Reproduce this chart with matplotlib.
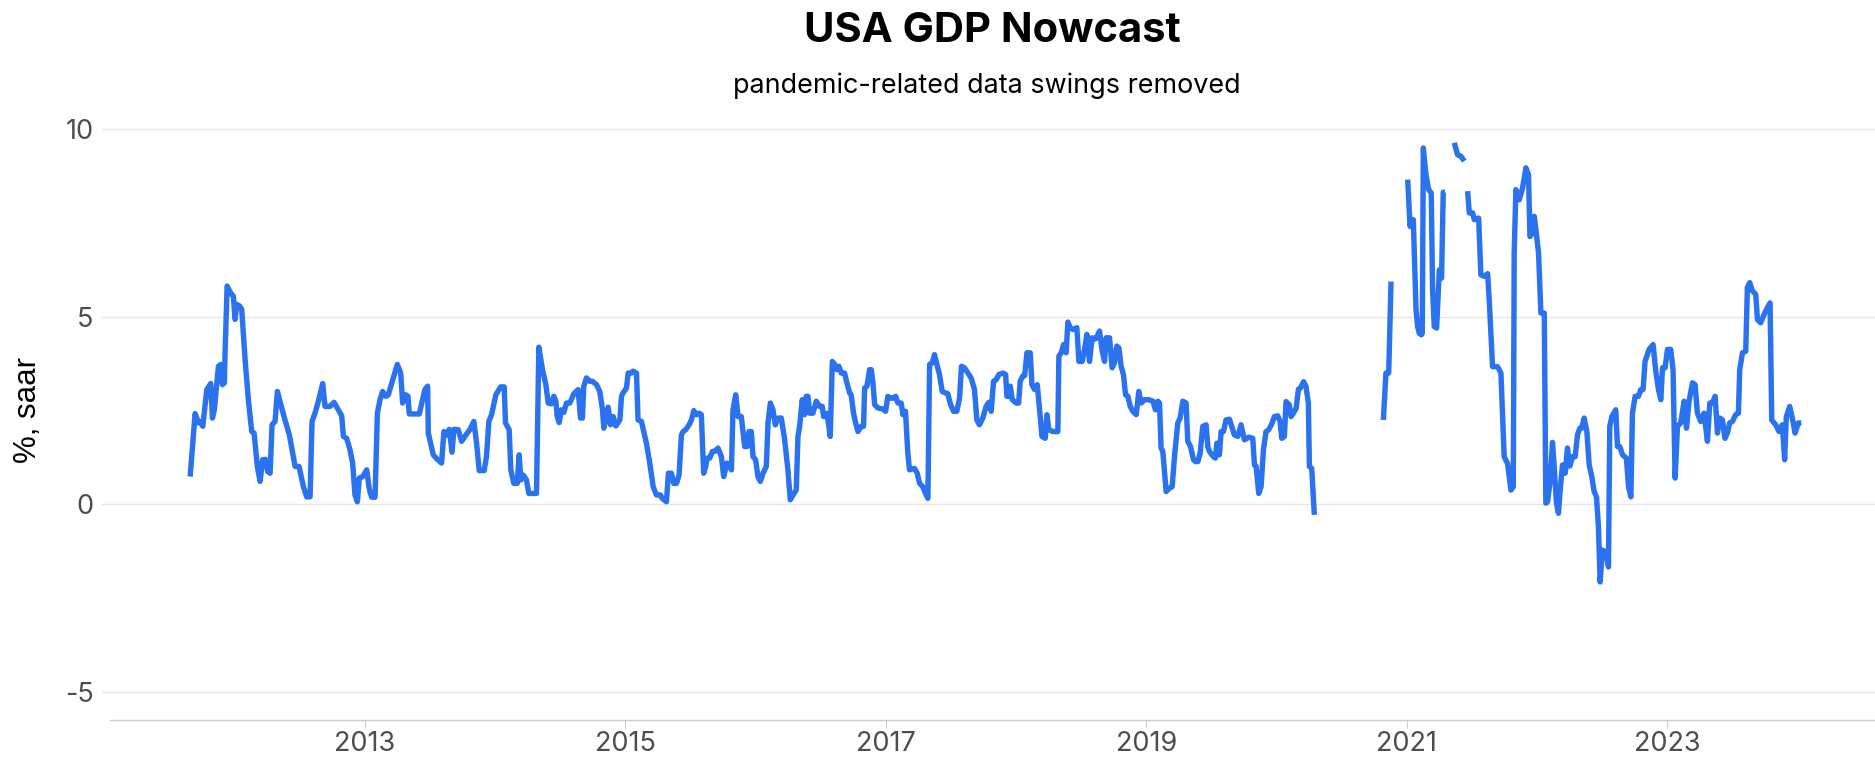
import numpy as np
import matplotlib
matplotlib.use("Agg")
from matplotlib import pyplot as plt

nan = np.nan

# decimal-year dates and nowcast values (% saar), gaps where data swings were removed
dates = [
    2011.657, 2011.695, 2011.721, 2011.733, 2011.754, 2011.785, 2011.815, 2011.828, 2011.843, 2011.874,
    2011.892, 2011.905, 2011.920, 2011.925, 2011.941, 2011.959, 2011.976, 2011.989, 2012.002, 2012.015,
    2012.035, 2012.053, 2012.079, 2012.104, 2012.130, 2012.148, 2012.173, 2012.194, 2012.214, 2012.235,
    2012.253, 2012.271, 2012.286, 2012.309, 2012.327, 2012.347, 2012.378, 2012.419, 2012.463, 2012.493,
    2012.527, 2012.552, 2012.578, 2012.593, 2012.616, 2012.642, 2012.675, 2012.693, 2012.731, 2012.762,
    2012.795, 2012.821, 2012.834, 2012.859, 2012.885, 2012.905, 2012.923, 2012.941, 2012.956, 2012.982,
    2013.013, 2013.033, 2013.051, 2013.077, 2013.095, 2013.115, 2013.135, 2013.161, 2013.179, 2013.217,
    2013.248, 2013.274, 2013.289, 2013.312, 2013.330, 2013.340, 2013.371, 2013.417, 2013.442, 2013.460,
    2013.481, 2013.486, 2013.524, 2013.555, 2013.588, 2013.606, 2013.627, 2013.647, 2013.668, 2013.683,
    2013.716, 2013.742, 2013.775, 2013.805, 2013.836, 2013.857, 2013.877, 2013.915, 2013.933, 2013.951,
    2013.972, 2014.005, 2014.041, 2014.069, 2014.079, 2014.107, 2014.120, 2014.143, 2014.169, 2014.184,
    2014.197, 2014.215, 2014.240, 2014.258, 2014.292, 2014.317, 2014.335, 2014.363, 2014.389, 2014.407,
    2014.432, 2014.450, 2014.466, 2014.476, 2014.491, 2014.509, 2014.527, 2014.547, 2014.573, 2014.604,
    2014.637, 2014.655, 2014.670, 2014.680, 2014.701, 2014.726, 2014.747, 2014.778, 2014.803, 2014.824,
    2014.834, 2014.867, 2014.885, 2014.906, 2014.926, 2014.957, 2014.970, 2014.982, 2015.008, 2015.021,
    2015.046, 2015.059, 2015.085, 2015.097, 2015.123, 2015.161, 2015.187, 2015.213, 2015.238, 2015.269,
    2015.282, 2015.315, 2015.330, 2015.353, 2015.371, 2015.392, 2015.412, 2015.430, 2015.443, 2015.463,
    2015.489, 2015.507, 2015.525, 2015.545, 2015.566, 2015.583, 2015.601, 2015.617, 2015.627, 2015.647,
    2015.668, 2015.686, 2015.711, 2015.737, 2015.755, 2015.780, 2015.814, 2015.826, 2015.847, 2015.865,
    2015.890, 2015.916, 2015.934, 2015.949, 2015.967, 2015.980, 2016.000, 2016.018, 2016.036, 2016.057,
    2016.082, 2016.095, 2016.113, 2016.133, 2016.151, 2016.172, 2016.197, 2016.223, 2016.248, 2016.266,
    2016.287, 2016.312, 2016.325, 2016.338, 2016.358, 2016.376, 2016.389, 2016.402, 2016.415, 2016.440,
    2016.466, 2016.491, 2016.512, 2016.522, 2016.548, 2016.573, 2016.589, 2016.607, 2016.624, 2016.640,
    2016.658, 2016.683, 2016.701, 2016.722, 2016.734, 2016.752, 2016.768, 2016.786, 2016.811, 2016.829,
    2016.837, 2016.855, 2016.875, 2016.888, 2016.901, 2016.914, 2016.939, 2016.978, 2016.998, 2017.016,
    2017.034, 2017.054, 2017.075, 2017.093, 2017.118, 2017.131, 2017.151, 2017.169, 2017.182, 2017.220,
    2017.241, 2017.259, 2017.284, 2017.305, 2017.323, 2017.336, 2017.356, 2017.374, 2017.392, 2017.412,
    2017.433, 2017.458, 2017.476, 2017.497, 2017.520, 2017.545, 2017.566, 2017.581, 2017.604, 2017.630,
    2017.655, 2017.681, 2017.699, 2017.719, 2017.745, 2017.770, 2017.791, 2017.809, 2017.827, 2017.847,
    2017.868, 2017.899, 2017.920, 2017.930, 2017.945, 2017.956, 2017.971, 2018.002, 2018.020, 2018.032,
    2018.053, 2018.066, 2018.084, 2018.109, 2018.122, 2018.142, 2018.163, 2018.181, 2018.199, 2018.224,
    2018.237, 2018.252, 2018.283, 2018.321, 2018.329, 2018.347, 2018.365, 2018.385, 2018.398, 2018.416,
    2018.437, 2018.467, 2018.483, 2018.508, 2018.526, 2018.544, 2018.564, 2018.585, 2018.610, 2018.623,
    2018.641, 2018.662, 2018.680, 2018.692, 2018.718, 2018.738, 2018.756, 2018.774, 2018.790, 2018.807,
    2018.825, 2018.841, 2018.859, 2018.877, 2018.897, 2018.923, 2018.943, 2018.961, 2018.987, 2019.020,
    2019.051, 2019.071, 2019.089, 2019.102, 2019.114, 2019.127, 2019.153, 2019.178, 2019.199, 2019.217,
    2019.242, 2019.260, 2019.281, 2019.306, 2019.319, 2019.340, 2019.363, 2019.378, 2019.396, 2019.414,
    2019.434, 2019.460, 2019.473, 2019.485, 2019.516, 2019.531, 2019.542, 2019.562, 2019.575, 2019.593,
    2019.613, 2019.639, 2019.677, 2019.703, 2019.728, 2019.754, 2019.787, 2019.818, 2019.831, 2019.844,
    2019.864, 2019.882, 2019.900, 2019.920, 2019.941, 2019.966, 2019.984, 2020.010, 2020.028, 2020.041,
    2020.061, 2020.074, 2020.099, 2020.112, 2020.130, 2020.151, 2020.169, 2020.184, 2020.209, 2020.227,
    2020.245, 2020.253, 2020.271, 2020.291, nan,
    2020.821, 2020.841, 2020.862, 2020.880, nan,
    2021.008, 2021.026, 2021.041, 2021.051, 2021.072, 2021.084, 2021.097, 2021.113, 2021.120, 2021.128,
    2021.148, 2021.169, 2021.189, 2021.199, 2021.212, 2021.230, 2021.251, 2021.268, 2021.281, 2021.294, nan,
    2021.366, 2021.391, 2021.417, 2021.443, nan,
    2021.468, 2021.481, 2021.507, 2021.519, 2021.532, 2021.553, 2021.570, 2021.596, 2021.622, 2021.634,
    2021.660, 2021.698, 2021.724, 2021.749, 2021.775, 2021.801, 2021.819, 2021.826, 2021.839, 2021.865,
    2021.890, 2021.916, 2021.936, 2021.947, 2021.967, 2021.980, 2021.993, 2022.013, 2022.031, 2022.057,
    2022.069, 2022.082, 2022.100, 2022.120, 2022.133, 2022.151, 2022.166, 2022.179, 2022.197, 2022.218,
    2022.235, 2022.253, 2022.274, 2022.294, 2022.312, 2022.330, 2022.345, 2022.363, 2022.384, 2022.402,
    2022.422, 2022.440, 2022.458, 2022.473, 2022.486, 2022.504, 2022.530, 2022.550, 2022.560, 2022.576,
    2022.606, 2022.619, 2022.637, 2022.658, 2022.688, 2022.704, 2022.722, 2022.734, 2022.755, 2022.780,
    2022.798, 2022.816, 2022.831, 2022.862, 2022.893, 2022.913, 2022.934, 2022.952, 2022.965, 2022.985,
    2023.003, 2023.028, 2023.046, 2023.062, 2023.080, 2023.105, 2023.131, 2023.149, 2023.169, 2023.195,
    2023.215, 2023.233, 2023.259, 2023.284, 2023.310, 2023.328, 2023.348, 2023.369, 2023.387, 2023.405,
    2023.425, 2023.445, 2023.463, 2023.481, 2023.502, 2023.527, 2023.548, 2023.558, 2023.579, 2023.604,
    2023.617, 2023.635, 2023.655, 2023.681, 2023.694, 2023.719, 2023.745, 2023.770, 2023.791, 2023.804,
    2023.834, 2023.860, 2023.885, 2023.903, 2023.916, 2023.942, 2023.962, 2023.983, 2024.008, 2024.031,
]

nowcast = [
    0.74, 2.42, 2.17, 2.21, 2.08, 3.06, 3.22, 2.30, 2.52, 3.68,
    3.73, 3.19, 3.24, 4.04, 5.82, 5.69, 5.60, 5.55, 4.93, 5.33,
    5.29, 5.20, 3.86, 2.79, 1.94, 1.90, 1.01, 0.61, 1.19, 1.20,
    0.87, 0.83, 2.12, 2.21, 3.01, 2.75, 2.34, 1.85, 1.01, 1.01,
    0.47, 0.20, 0.20, 2.21, 2.43, 2.75, 3.22, 2.61, 2.61, 2.72,
    2.52, 2.36, 1.81, 1.76, 1.45, 1.10, 0.25, 0.07, 0.70, 0.74,
    0.92, 0.40, 0.19, 0.19, 2.43, 2.79, 3.01, 2.88, 2.92, 3.37,
    3.73, 3.50, 2.70, 2.92, 2.88, 2.41, 2.41, 2.41, 2.79, 3.06,
    3.15, 1.90, 1.32, 1.20, 1.10, 1.94, 1.85, 2.00, 1.39, 2.00,
    1.99, 1.68, 1.85, 1.99, 2.21, 1.63, 0.90, 0.90, 1.27, 2.21,
    2.39, 2.92, 3.13, 3.13, 2.17, 1.99, 0.92, 0.56, 0.56, 1.32,
    0.65, 0.78, 0.65, 0.29, 0.29, 0.29, 4.19, 3.59, 3.19, 2.70,
    2.68, 2.88, 2.75, 2.34, 2.18, 2.52, 2.45, 2.70, 2.70, 2.95,
    3.06, 2.30, 2.30, 3.15, 3.37, 3.28, 3.28, 3.19, 3.01, 2.52,
    2.03, 2.59, 2.12, 2.34, 2.09, 2.25, 2.88, 2.97, 3.10, 3.50,
    3.50, 3.55, 3.50, 2.25, 2.21, 1.63, 1.10, 0.47, 0.25, 0.25,
    0.16, 0.07, 0.83, 0.83, 0.56, 0.56, 0.78, 1.85, 1.94, 1.99,
    2.12, 2.25, 2.50, 2.39, 2.43, 2.39, 0.83, 1.01, 1.23, 1.23,
    1.41, 1.41, 1.50, 1.27, 0.74, 1.10, 0.92, 2.52, 2.92, 2.34,
    2.34, 1.54, 1.54, 1.94, 1.94, 1.27, 1.19, 0.74, 0.61, 0.83,
    1.01, 2.17, 2.70, 2.52, 2.12, 2.30, 2.30, 1.72, 0.92, 0.12,
    0.25, 0.38, 1.81, 2.08, 2.79, 2.39, 2.88, 2.88, 2.43, 2.43,
    2.75, 2.61, 2.61, 2.34, 2.43, 1.81, 3.81, 3.73, 3.59, 3.68,
    3.50, 3.50, 3.24, 2.97, 2.92, 2.43, 2.17, 1.94, 2.08, 2.08,
    3.10, 3.15, 3.59, 3.59, 3.24, 2.66, 2.57, 2.54, 2.48, 2.88,
    2.83, 2.83, 2.88, 2.70, 2.70, 2.39, 2.48, 1.36, 0.92, 0.96,
    0.83, 0.56, 0.47, 0.29, 0.16, 3.73, 3.77, 3.99, 3.73, 3.46,
    3.01, 2.97, 2.95, 2.66, 2.48, 2.48, 2.83, 3.68, 3.64, 3.50,
    3.37, 3.06, 2.25, 2.12, 2.30, 2.61, 2.72, 2.48, 3.28, 3.32,
    3.46, 3.50, 3.46, 2.88, 2.88, 3.15, 2.79, 2.70, 2.70, 3.28,
    3.43, 3.43, 4.04, 4.04, 3.19, 3.06, 3.19, 2.52, 1.81, 1.76,
    2.39, 1.99, 1.94, 1.94, 3.95, 4.04, 4.26, 4.04, 4.86, 4.71,
    4.66, 4.71, 3.81, 3.81, 4.13, 4.53, 3.81, 4.44, 4.41, 4.48,
    4.62, 4.08, 3.81, 4.44, 4.44, 3.64, 3.77, 4.22, 4.17, 3.68,
    3.46, 2.92, 2.88, 2.61, 2.48, 2.39, 3.01, 2.70, 2.79, 2.79,
    2.75, 2.52, 2.75, 2.70, 1.50, 1.41, 0.34, 0.43, 0.47, 1.27,
    2.17, 2.30, 2.75, 2.70, 1.68, 1.54, 1.19, 1.14, 1.14, 1.36,
    2.08, 2.12, 1.54, 1.41, 1.27, 1.23, 1.63, 1.32, 1.94, 1.94,
    2.25, 2.27, 1.85, 1.81, 2.12, 1.72, 1.79, 1.76, 1.05, 1.01,
    0.29, 0.47, 1.45, 1.94, 1.99, 2.16, 2.34, 2.36, 2.21, 1.76,
    1.81, 2.74, 2.65, 2.34, 2.43, 2.56, 3.07, 3.10, 3.27, 3.14,
    2.70, 1.01, 0.96, -0.28, nan,
    2.25, 3.50, 3.50, 5.94, nan,
    8.66, 7.41, 7.59, 7.59, 5.19, 4.74, 4.56, 4.52, 4.56, 9.50,
    8.79, 8.39, 8.30, 5.72, 4.74, 4.70, 6.25, 6.03, 8.32, 8.32, nan,
    9.64, 9.32, 9.28, 9.15, nan,
    8.35, 7.77, 7.77, 7.59, 7.61, 7.63, 6.12, 6.08, 6.15, 5.45,
    3.67, 3.67, 3.50, 1.27, 1.09, 0.38, 0.47, 6.70, 8.39, 8.12,
    8.43, 8.97, 8.79, 7.14, 7.23, 7.68, 7.32, 6.70, 5.10, 5.10,
    0.03, 0.07, 0.56, 1.65, 1.01, 0.03, -0.24, 0.38, 1.05, 0.83,
    1.50, 1.02, 1.27, 1.27, 1.85, 2.03, 2.03, 2.30, 1.94, 1.05,
    0.74, 0.34, 0.20, -0.60, -2.07, -1.22, -1.27, -1.67, 2.08, 2.34,
    2.52, 1.54, 1.54, 1.32, 1.23, 0.47, 0.20, 2.43, 2.88, 2.88,
    3.06, 3.06, 3.81, 4.13, 4.26, 3.55, 3.06, 2.79, 3.64, 3.64,
    4.13, 4.13, 3.59, 0.70, 2.08, 2.17, 2.75, 2.03, 2.75, 3.24,
    3.19, 2.43, 2.21, 2.43, 1.68, 2.70, 2.70, 2.88, 1.90, 2.30,
    2.25, 1.76, 1.90, 2.17, 2.21, 2.39, 2.43, 3.59, 4.04, 4.08,
    5.78, 5.91, 5.69, 5.60, 4.93, 4.84, 5.06, 5.24, 5.37, 2.25,
    2.12, 1.94, 2.12, 1.19, 2.34, 2.61, 2.30, 1.90, 2.17, 2.17,
]

year_ticks = [2013, 2015, 2017, 2019, 2021, 2023]
value_ticks = [-5, 0, 5, 10]

W, H = 1875, 757
plt.rcParams['font.family'] = ['Inter', 'DejaVu Sans']
plt.rcParams['axes.unicode_minus'] = False
fig = plt.figure(figsize=(W / 100, H / 100), dpi=100)

# axes placed in pixel terms of the target (gridlines start a bit left of the x axis line)
left, right, top, bottom = 102, 1875, 112, 720
ax = fig.add_axes([left / W, 1 - bottom / H, (right - left) / W, (bottom - top) / H])

ax.plot(dates, nowcast, color='#2b72ee', lw=3.9, solid_joinstyle='round', solid_capstyle='butt')

ax.set_xlim(2010.980, 2024.597)
ax.set_ylim(-5.75, 10.46)
ax.set_xticks(year_ticks)
ax.set_xticklabels([str(y) for y in year_ticks])
ax.set_yticks(value_ticks)

ax.grid(axis='y', color='#e6e6e6', lw=1.0)
ax.set_axisbelow(True)
for s in ['top', 'right', 'left']:
    ax.spines[s].set_visible(False)
ax.spines['bottom'].set_color('#cccccc')
ax.spines['bottom'].set_linewidth(1.0)
ax.spines['bottom'].set_bounds(2011.041, 2024.597)

ax.tick_params(axis='x', length=5.8, width=0.8, color='#cccccc', pad=2,
               labelsize=19.5, labelcolor='#4d4d4d')
ax.tick_params(axis='y', length=0, pad=6, labelsize=19.5, labelcolor='#4d4d4d')

fig.text(28 / W, 1 - 410 / H, '%, saar', rotation=90, ha='center', va='center',
         fontsize=22.5, color='#000000', family=['Liberation Sans', 'DejaVu Sans'])

cx = (110 + right) / 2 / W
fig.text(cx, 1 - 42 / H, 'USA GDP Nowcast', ha='center', va='baseline',
         fontsize=30, fontweight='bold', color='#000000')
fig.text(cx - 6 / W, 1 - 93 / H, 'pandemic-related data swings removed', ha='center', va='baseline',
         fontsize=19.4, color='#000000')

fig.savefig('out.png', dpi=100)
